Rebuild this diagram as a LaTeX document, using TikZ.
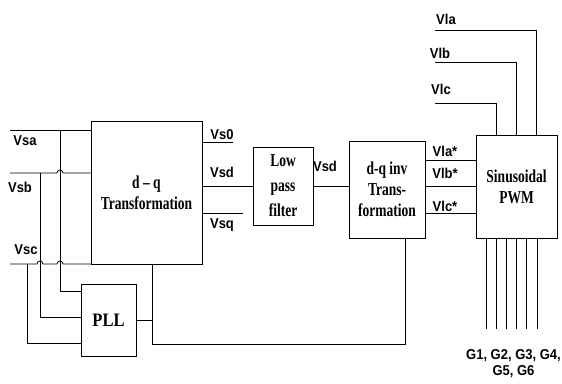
\documentclass[tikz,border=0pt]{standalone}
\usepackage{fontspec}
\setmainfont{Liberation Serif}
\setsansfont{Liberation Sans}
\usetikzlibrary{calc,positioning}
\newcommand{\tall}[2][1.35]{\scalebox{1}[#1]{#2}}

\begin{document}
\begin{tikzpicture}[x=1pt,y=-1pt,line width=0.8pt]
  \tikzset{
    block/.style={draw, inner sep=0pt, outer sep=0pt, align=center,
      font=\bfseries\fontsize{13.5}{21}\selectfont},
    sig/.style={inner sep=0pt, font=\sffamily\bfseries\fontsize{13}{15}\selectfont},
    % every path/.style={thick},
  }
  \useasboundingbox (0,0) rectangle (562,383);

  \node[block, minimum width=111pt, minimum height=143pt] (dq) at (146.5,192.5)
    {\tall{d -- q}\\\tall{Transformation}};
  \node[block, minimum width=60pt, minimum height=78pt,
    font=\bfseries\fontsize{13.5}{25}\selectfont] (lpf) at (283,186)
    {\tall{Low}\\\tall{pass}\\\tall{filter}};
  \node[block, minimum width=76pt, minimum height=97pt] (dqinv) at (387,189.5)
    {\tall{d-q inv}\\\tall{Trans-}\\\tall{formation}};
  \node[block, minimum width=81pt, minimum height=103pt] (pwm) at (516.5,186.5)
    {\tall{Sinusoidal}\\\tall{PWM}};
  \node[block, minimum width=55pt, minimum height=72pt,
    font=\bfseries\fontsize{16.5}{20}\selectfont] (pll) at (108.5,320)
    {\tall[1.15]{PLL}};

  \coordinate (sa) at (10,130);
  \coordinate (sb) at (10,173);
  \coordinate (sc) at (10,264);
  \coordinate (ta) at (60,130);
  \coordinate (tb) at (40,173);
  \coordinate (tc) at (27,264);

  \draw (sa) -- (sa -| dq.west);
  \draw (sb) -- ($(sb -| ta)+(-3,0)$) arc (180:360:3) -- (sb -| dq.west);
  \draw (sc) -- ($(sc -| tb)+(-3,0)$) arc (180:360:3)
    -- ($(sc -| ta)+(-3,0)$) arc (180:360:3) -- (dq.south west);
  \draw (ta) |- ($(pll.west)+(0,-29)$);
  \draw (tb) |- ($(pll.west)+(0,-3)$);
  \draw (tc) |- ($(pll.west)+(0,23)$);

  \node[sig] (lsa) at (25,141) {\tall[1.1]{Vsa}};
  \node[sig] (lsb) at (20,187) {\tall[1.1]{Vsb}};
  \node[sig] (lsc) at (26,250) {\tall[1.1]{Vsc}};

  \draw ($(dq.east)+(0,-50.5)$) -- ++(31,0);
  \draw (lpf.west -| dq.east) -- (lpf.west);
  \draw ($(dq.east)+(0,20.5)$) -- ++(41,0);
  \node[sig] (ls0) at (222,135) {\tall[1.1]{Vs0}};
  \node[sig] (lsd) at (222,172) {\tall[1.1]{Vsd}};
  \node[sig] (lsq) at (222,225) {\tall[1.1]{Vsq}};

  \draw (lpf.east) -- (lpf.east -| dqinv.west);
  \node[sig] (lsd2) at (325,166) {\tall[1.1]{Vsd}};

  \foreach \o in {-29.5,-3.5,23.5}
    \draw ($(dqinv.east)+(0,\o)$) coordinate (s) -- (s -| pwm.west);
  \node[sig] (lla2) at (445,151) {\tall[1.1]{Vla*}};
  \node[sig] (llb2) at (445,173) {\tall[1.1]{Vlb*}};
  \node[sig] (llc2) at (445,206) {\tall[1.1]{Vlc*}};

  \coordinate (va) at (435,30);
  \coordinate (vb) at (435,62);
  \coordinate (vc) at (435,103);
  \draw (va) -| ($(pwm.north)+(20,0)$);
  \draw (vb) -| (pwm.north);
  \draw (vc) -| ($(pwm.north)+(-20,0)$);
  \node[sig] (lla) at (446,19) {\tall[1.1]{Vla}};
  \node[sig] (llb) at (440,53) {\tall[1.1]{Vlb}};
  \node[sig] (llc) at (441,89) {\tall[1.1]{Vlc}};

  \foreach \i in {0,...,5}
    \draw ($(pwm.south)+(-30.5+10.2*\i,0)$) -- ++(0,91);
  \node[sig, align=center, font=\sffamily\bfseries\fontsize{13}{16}\selectfont]
    (lg) at (513.5,364) {\tall[1.1]{G1, G2, G3, G4,}\\\tall[1.1]{G5, G6}};

  \coordinate (jn) at (152,264);
  \coordinate (fb) at (405,344);
  \draw (jn) |- (fb) -- (fb |- dqinv.south);
  \draw (pll.east) -- (pll.east -| jn);
\end{tikzpicture}
\end{document}
